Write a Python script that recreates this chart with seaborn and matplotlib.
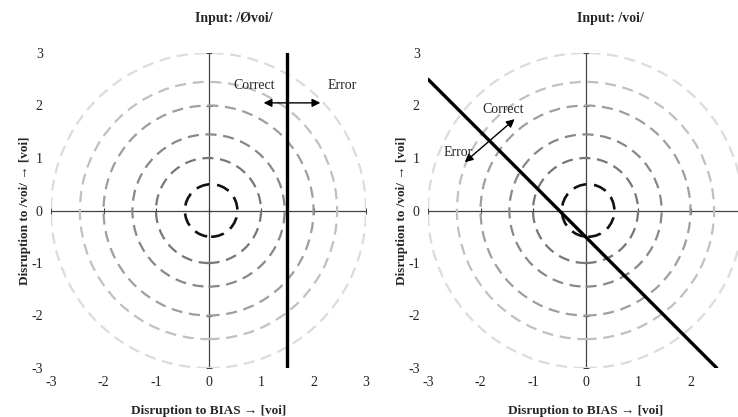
import matplotlib
matplotlib.use("Agg")
import matplotlib.pyplot as plt
from matplotlib.patches import Circle
import seaborn as sns
import pandas as pd
import numpy as np

# rings of equal disruption (radius, centre x)
ring_radii = [0.5, 1.0, 1.45, 2.0, 2.45, 3.0]
ring_center_x = [0.05, 0.0, 0.0, 0.0, 0.0, 0.0]
ring_colors = ["#111111", "#777777", "#888888", "#9e9e9e", "#c0c0c0", "#dcdcdc"]

ticks = [-3, -2, -1, 0, 1, 2, 3]

# decision boundaries
left_boundary_x = [1.5, 1.5]
left_boundary_y = [-3, 3]
right_boundary_x = [-3, 2.5]
right_boundary_y = [2.5, -3]

# double arrows (start, end) and labels
left_arrow = [(1.05, 2.05), (2.13, 2.05)]
right_arrow = [(-2.3, 0.92), (-1.35, 1.74)]
left_labels = [("Correct", 0.86, 2.38), ("Error", 2.55, 2.38)]
right_labels = [("Correct", -1.57, 1.92), ("Error", -2.43, 1.11)]

titles = ["Input: /Øvoi/", "Input: /voi/"]
xlabel = "Disruption to BIAS \u2192 [voi]"
ylabel = "Disruption to /voi/ \u2192 [voi]"

sns.set_theme(style="white")
plt.rcParams["font.family"] = ["Liberation Serif", "DejaVu Serif"]

fig = plt.figure(figsize=(7.38, 4.17), dpi=100)
ax_l = fig.add_axes([51 / 738, 49 / 417, 315 / 738, 315 / 417])
ax_r = fig.add_axes([428 / 738, 49 / 417, 315 / 738, 315 / 417])


def draw_panel(ax, title, bx, by, arrow, labels, hide_last_xtick=False):
    ax.set_xlim(-3, 3)
    ax.set_ylim(-3, 3)
    for s in ax.spines.values():
        s.set_visible(False)

    # centre axis lines with little tick marks
    ax.axhline(0, color="#444444", lw=0.9, zorder=1)
    ax.axvline(0, color="#444444", lw=0.9, zorder=1)
    ax.plot(ticks, [0] * len(ticks), ls="none", marker="|", ms=4, color="#444444", mew=0.8)
    ax.plot([0] * len(ticks), ticks, ls="none", marker="_", ms=4, color="#444444", mew=0.8)

    for r, cx, c in zip(ring_radii, ring_center_x, ring_colors):
        ax.add_patch(Circle((cx, 0), r, fill=False, ec=c,
                            lw=1.9 if r < 0.6 else 1.6,
                            ls=(0, (5, 3)), zorder=2))

    df = pd.DataFrame({"x": bx, "y": by})
    sns.lineplot(data=df, x="x", y="y", ax=ax, color="black", lw=2.4,
                 sort=False, estimator=None, zorder=3)

    ax.annotate("", xy=arrow[1], xytext=arrow[0],
                arrowprops=dict(arrowstyle="<|-|>", color="black", lw=1.0,
                                mutation_scale=12, shrinkA=0, shrinkB=0))
    for txt, x, y in labels:
        ax.text(x, y, txt, ha="center", va="center", fontsize=10)

    ax.set_xticks(ticks)
    ax.set_yticks(ticks)
    ax.set_xticklabels([str(t) for t in ticks])
    ax.set_yticklabels([str(t) for t in ticks])
    if hide_last_xtick:
        ax.get_xticklabels()[-1].set_visible(False)
    ax.tick_params(length=0, labelsize=10, pad=6, colors="#222222")
    ax.set_xlabel(xlabel, fontsize=9.5, fontweight="bold", labelpad=11)
    ax.set_ylabel(ylabel, fontsize=9.5, fontweight="bold", labelpad=0)
    ax.text(0.58, 1.11, title, transform=ax.transAxes, ha="center",
            va="center", fontsize=10, fontweight="bold")


draw_panel(ax_l, titles[0], left_boundary_x, left_boundary_y, left_arrow, left_labels)
draw_panel(ax_r, titles[1], right_boundary_x, right_boundary_y, right_arrow, right_labels,
           hide_last_xtick=True)

fig.savefig("out.png", dpi=100)
